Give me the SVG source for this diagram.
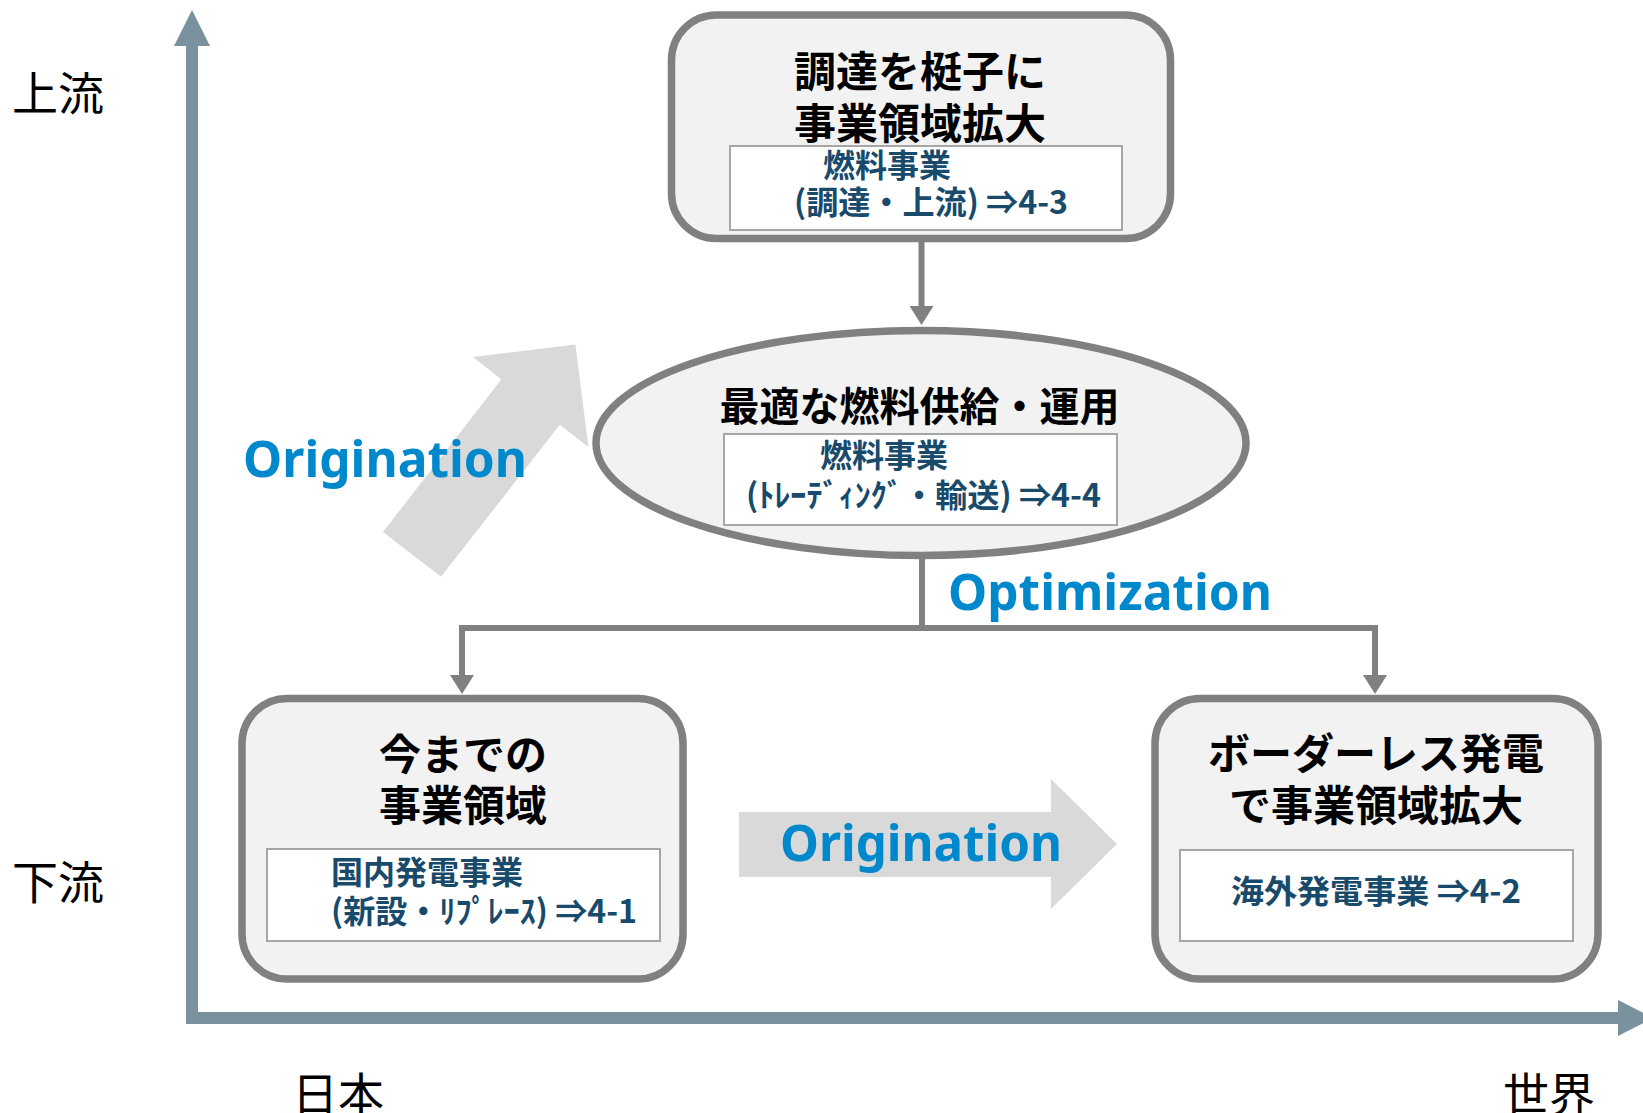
<svg xmlns="http://www.w3.org/2000/svg" width="1643" height="1113" viewBox="0 0 1643 1113">
<defs>
<style>
.box{fill:#F2F2F2;stroke:#808080;stroke-width:7.5}
.inner{fill:#FFFFFF;stroke:#A6A6A6;stroke-width:2}
.title{font-family:"Noto Sans CJK JP","Noto Sans CJK SC",sans-serif;font-weight:700;font-size:42px;fill:#000000;text-anchor:middle}
.sub{font-family:"Noto Sans CJK JP","Noto Sans CJK SC",sans-serif;font-weight:700;font-size:32px;fill:#184A6C}
.blue{font-family:"Noto Sans","Open Sans",sans-serif;font-weight:700;font-size:50px;fill:#0088CC}
.axlabel{font-family:"Noto Sans CJK JP","Noto Sans CJK SC",sans-serif;font-weight:400;font-size:46px;fill:#000000}
.conn{fill:none;stroke:#808080;stroke-width:6;stroke-linejoin:miter}
.axis{fill:none;stroke:#7A929E;stroke-width:12;stroke-linejoin:miter}
.axhead{fill:#7A929E}
.bigarrow{fill:#D9D9D9}
</style>
<marker id="ah" markerUnits="userSpaceOnUse" markerWidth="20" markerHeight="24" viewBox="0 0 20 24" refX="0" refY="12" orient="auto">
<path d="M0,0 L19,12 L0,24 Z" fill="#808080"/>
</marker>
</defs>

<g id="axes">
<path class="axis" d="M192,44 V1018 H1620"/>
<polygon class="axhead" points="192,10 174,46 210,46"/>
<polygon class="axhead" points="1618,1000 1653,1018 1618,1036"/>
<text class="axlabel" x="12" y="110">上流</text>
<text class="axlabel" x="12" y="899">下流</text>
<text class="axlabel" x="292" y="1111">日本</text>
<text class="axlabel" x="1503" y="1111">世界</text>
</g>

<g id="origination-diagonal">
<polygon class="bigarrow" points="473,357 575.4,344.4 588.4,447 559.8,424.8 441,576.7 383,532 501.3,379.6"/>
<text class="blue" x="243" y="477" textLength="284" lengthAdjust="spacingAndGlyphs">Origination</text>
</g>

<g id="origination-horizontal">
<polygon class="bigarrow" points="739,812 1051,812 1051,779 1117,844 1051,909 1051,877 739,877"/>
<text class="blue" x="780" y="861" textLength="282" lengthAdjust="spacingAndGlyphs">Origination</text>
</g>

<g id="connectors">
<path class="conn" d="M921.5,241 V306" marker-end="url(#ah)"/>
<path class="conn" d="M922,556 V628 H462 V675" marker-end="url(#ah)"/>
<path class="conn" d="M922,628 H1375 V675" marker-end="url(#ah)"/>
<text class="blue" x="948" y="610" textLength="324" lengthAdjust="spacingAndGlyphs">Optimization</text>
</g>

<g id="node-upstream">
<rect class="box" x="671.5" y="15" width="499" height="223.5" rx="45" ry="45"/>
<text class="title" x="920" y="87">調達を梃子に</text>
<text class="title" x="920" y="139">事業領域拡大</text>
<rect class="inner" x="730" y="146" width="392" height="84"/>
<text class="sub" x="823" y="177">燃料事業</text>
<text class="sub" x="794" y="214" textLength="274" lengthAdjust="spacingAndGlyphs">(調達・上流) ⇒4-3</text>
</g>

<g id="node-optimal">
<ellipse class="box" cx="921" cy="443" rx="325" ry="112.5"/>
<text class="title" x="919.5" y="421" style="font-size:40px">最適な燃料供給・運用</text>
<rect class="inner" x="724" y="434" width="393" height="91"/>
<text class="sub" x="820" y="467">燃料事業</text>
<text class="sub" x="746" y="507" textLength="355" lengthAdjust="spacingAndGlyphs">(ﾄﾚｰﾃﾞｨﾝｸﾞ・輸送) ⇒4-4</text>
</g>

<g id="node-domestic">
<rect class="box" x="242" y="698.5" width="441" height="280.5" rx="45" ry="45"/>
<text class="title" x="463" y="770">今までの</text>
<text class="title" x="463" y="821">事業領域</text>
<rect class="inner" x="267" y="849" width="393" height="92"/>
<text class="sub" x="331" y="884">国内発電事業</text>
<text class="sub" x="331" y="923" textLength="306" lengthAdjust="spacingAndGlyphs">(新設・ﾘﾌﾟﾚｰｽ) ⇒4-1</text>
</g>

<g id="node-overseas">
<rect class="box" x="1155" y="698.5" width="443" height="280.5" rx="45" ry="45"/>
<text class="title" x="1376" y="769">ボーダーレス発電</text>
<text class="title" x="1376" y="821">で事業領域拡大</text>
<rect class="inner" x="1180" y="850" width="393" height="91"/>
<text class="sub" x="1376" y="903" text-anchor="middle" textLength="290" lengthAdjust="spacingAndGlyphs">海外発電事業 ⇒4-2</text>
</g>
</svg>
